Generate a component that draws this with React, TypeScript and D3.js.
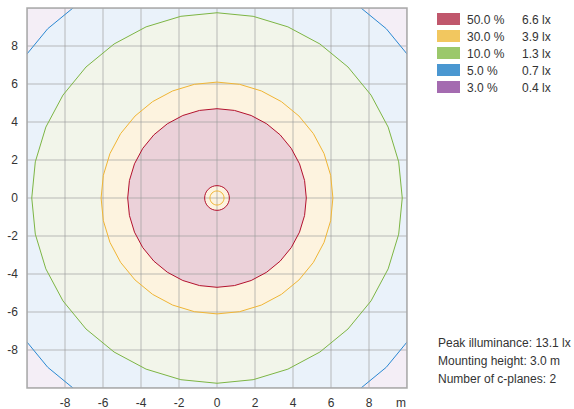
import React from 'react'
import * as d3 from 'd3'

// isolux levels
const levelPercent = ['50.0 %', '30.0 %', '10.0 %', '5.0 %', '3.0 %']
const levelLux = ['6.6 lx', '3.9 lx', '1.3 lx', '0.7 lx', '0.4 lx']
const levelRadius = [4.7, 6.1, 9.75, 12.6, 14.8]
const levelFill = ['#ebd1d9', '#fdf3df', '#f2f5ea', '#eaf2fa', '#f4eef6']
const levelStroke = ['#b3112e', '#f0b535', '#7db544', '#2a88d2', '#9a5aab']
const levelSwatch = ['#c0576c', '#f2c75f', '#9bc86b', '#4a97d1', '#a46bb0']

// small dip in the middle (radius, level index)
const centerRings: [number, number][] = [[0.65, 0], [0.37, 1]]

const xTicks = [-8, -6, -4, -2, 0, 2, 4, 6, 8]
const yTicks = [8, 6, 4, 2, 0, -2, -4, -6, -8]
const gridVals = [-10, -8, -6, -4, -2, 0, 2, 4, 6, 8, 10]
const infoLines = ['Peak illuminance: 13.1 lx', 'Mounting height: 3.0 m', 'Number of c-planes: 2']

const W = 574
const H = 409
const font = 'Liberation Sans, Arial, sans-serif'
const VERTS = 32

function ring(r: number, sx: d3.ScaleLinear<number, number>, sy: d3.ScaleLinear<number, number>) {
  const pts: [number, number][] = d3.range(VERTS).map(i => {
    const a = (i / VERTS) * Math.PI * 2
    return [sx(r * Math.sin(a)), sy(r * Math.cos(a))]
  })
  return d3.line().curve(d3.curveLinearClosed)(pts) || ''
}

export default function App() {
  const sx = d3.scaleLinear().domain([-10, 10]).range([27, 407])
  const sy = d3.scaleLinear().domain([-10, 10]).range([388, 8])
  const x0 = sx(-10), x1 = sx(10), y0 = sy(10), y1 = sy(-10)

  return (
    <svg width={W} height={H} style={{ position: 'absolute', left: 0, top: 0 }} fontFamily={font}>
      <defs>
        <clipPath id="plot">
          <rect x={x0} y={y0} width={x1 - x0} height={y1 - y0} />
        </clipPath>
      </defs>
      <g clipPath="url(#plot)">
        <rect x={x0} y={y0} width={x1 - x0} height={y1 - y0} fill={levelFill[4]} />
        {[3, 2, 1, 0].map(i => (
          <path key={'f' + i} d={ring(levelRadius[i], sx, sy)} fill={levelFill[i]} />
        ))}
        {centerRings.map(([r, li], k) => (
          <path key={'cf' + k} d={ring(r, sx, sy)} fill={levelFill[1]} />
        ))}
        {gridVals.map(v => (
          <g key={'g' + v}>
            <line x1={sx(v)} x2={sx(v)} y1={y0} y2={y1} stroke="#9a9a9a" strokeOpacity={0.65} />
            <line x1={x0} x2={x1} y1={sy(v)} y2={sy(v)} stroke="#9a9a9a" strokeOpacity={0.65} />
          </g>
        ))}
        {[3, 2, 1, 0].map(i => (
          <path key={'s' + i} d={ring(levelRadius[i], sx, sy)} fill="none" stroke={levelStroke[i]} strokeWidth={1} />
        ))}
        {centerRings.map(([r, li], k) => (
          <path key={'cs' + k} d={ring(r, sx, sy)} fill="none" stroke={levelStroke[li]} strokeWidth={1} />
        ))}
      </g>
      <rect x={x0} y={y0} width={x1 - x0} height={y1 - y0} fill="none" stroke="#aaaaaa" strokeWidth={1.5} />
      {xTicks.map(v => (
        <text key={'x' + v} x={sx(v)} y={406.5} textAnchor="middle" fontSize={12} fill="#333">{v}</text>
      ))}
      <text x={sx(10) - 6} y={406.5} textAnchor="middle" fontSize={12} fill="#333">m</text>
      {yTicks.map(v => (
        <text key={'y' + v} x={18} y={sy(v) + 4} textAnchor="end" fontSize={12} fill="#333">{v}</text>
      ))}
      {levelPercent.map((p, i) => (
        <g key={'l' + i} transform={`translate(437,${13 + i * 17})`}>
          <rect x={0} y={0} width={23} height={12} fill={levelSwatch[i]} />
          <text x={30} y={10.5} fontSize={12} fill="#333">{p}</text>
          <text x={85} y={10.5} fontSize={12} fill="#333">{levelLux[i]}</text>
        </g>
      ))}
      {infoLines.map((t, i) => (
        <text key={'i' + i} x={438} y={347 + i * 18} fontSize={12} fill="#333">{t}</text>
      ))}
    </svg>
  )
}
